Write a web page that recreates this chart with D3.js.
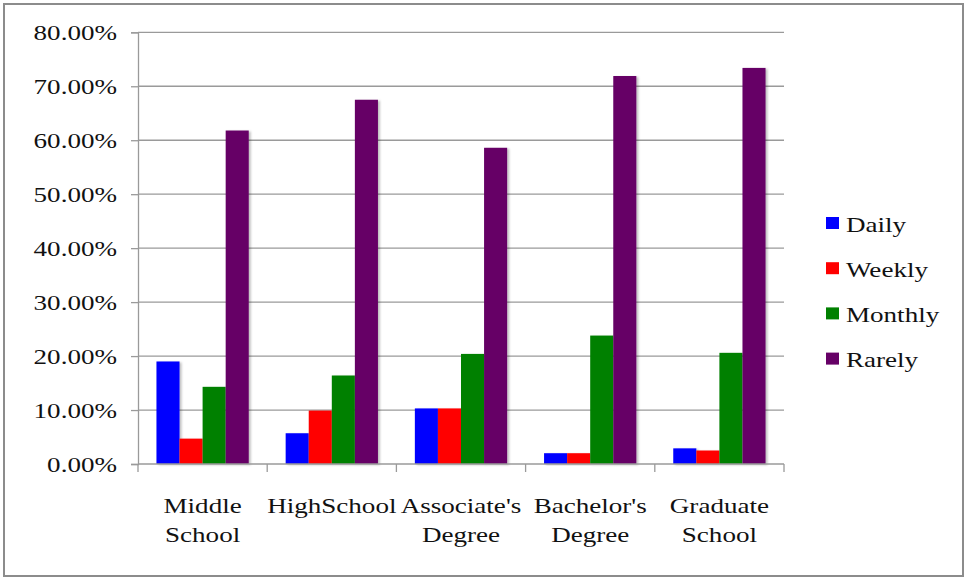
<!DOCTYPE html>
<html><head><meta charset="utf-8">
<script src="https://cdn.jsdelivr.net/npm/d3@7"></script>
<style>html,body{margin:0;padding:0;background:#fff;}svg{display:block;}</style>
</head><body>
<script>
const categories = [["Middle","School"],["HighSchool"],["Associate's","Degree"],["Bachelor's","Degree"],["Graduate","School"]];
const seriesNames = ["Daily","Weekly","Monthly","Rarely"];
const seriesColors = ["#0000ff","#ff0000","#008000","#660066"];
const daily   = [0.190, 0.057, 0.103, 0.020, 0.029];
const weekly  = [0.047, 0.099, 0.103, 0.020, 0.025];
const monthly = [0.143, 0.164, 0.204, 0.238, 0.206];
const rarely  = [0.618, 0.675, 0.586, 0.719, 0.734];
const yTicks = [0,0.1,0.2,0.3,0.4,0.5,0.6,0.7,0.8];
const values = [daily, weekly, monthly, rarely];

(function(){
const W = 965, H = 579;
const svg = d3.select("body").append("svg").attr("width", W).attr("height", H);
const defs = svg.append("defs");
const f = defs.append("filter").attr("id","sh").attr("x","-20%").attr("y","-5%").attr("width","150%").attr("height","120%");
f.append("feDropShadow").attr("dx",2).attr("dy",1).attr("stdDeviation",1).attr("flood-color","#000").attr("flood-opacity",0.25);

svg.append("rect").attr("x",4).attr("y",4).attr("width",959).attr("height",572)
  .attr("fill","#fff").attr("stroke","#8c8c8c").attr("stroke-width",2);

const pLeft = 138, pRight = 784, pTop = 32.3, pBottom = 464;
const x0 = d3.scaleBand().domain(d3.range(categories.length)).range([pLeft,pRight]).padding(0);
const x1 = d3.scaleBand().domain(d3.range(seriesNames.length)).range([0,x0.bandwidth()]).paddingInner(0).paddingOuter(0.8);
const y = d3.scaleLinear().domain([0,0.8]).range([pBottom, pTop]);

function stext(g, x, yy, txt, anchor, size){
  return g.append("text").attr("transform",`translate(${x},${yy}) scale(1.23,1)`)
    .attr("text-anchor",anchor).style("font-family",'"Liberation Serif"').style("font-size",size+"px")
    .attr("fill","#111").text(txt);
}

const grid = svg.append("g");
grid.selectAll("line").data(yTicks.filter(d=>d>0)).join("line")
  .attr("x1",pLeft).attr("x2",pRight).attr("y1",d=>y(d)).attr("y2",d=>y(d))
  .attr("stroke","#9a9a9a").attr("stroke-width",1.3);

const yAxis = d3.axisLeft(y).tickValues(yTicks).tickSize(7).tickFormat(d=>d3.format(".2%")(d));
const ya = svg.append("g").attr("transform",`translate(${pLeft},0)`).call(yAxis);
ya.select(".domain").attr("stroke","#9a9a9a").attr("stroke-width",1.3);
ya.selectAll(".tick line").attr("stroke","#9a9a9a").attr("stroke-width",1.3);
ya.selectAll(".tick text").remove();
const yl = svg.append("g");
yTicks.forEach(t=>{ stext(yl, 117, y(t)+7.5, d3.format(".2%")(t), "end", 22); });

const bars = svg.append("g");
values.forEach((arr,si)=>{
  bars.selectAll(null).data(arr).join("rect")
    .attr("x",(d,i)=>x0(i)+x1(si)).attr("width",x1.bandwidth())
    .attr("y",d=>y(d)).attr("height",d=>y(0)-y(d))
    .attr("fill",seriesColors[si]).attr("filter","url(#sh)");
});

const xa = svg.append("g");
xa.append("line").attr("x1",pLeft).attr("x2",pRight).attr("y1",pBottom).attr("y2",pBottom)
  .attr("stroke","#9a9a9a").attr("stroke-width",1.3);
xa.selectAll("line.tk").data(d3.range(categories.length+1)).join("line").attr("class","tk")
  .attr("x1",i=>pLeft+i*x0.step()).attr("x2",i=>pLeft+i*x0.step())
  .attr("y1",pBottom).attr("y2",pBottom+8).attr("stroke","#9a9a9a").attr("stroke-width",1.3);
categories.forEach((lines,i)=>{
  const cx = x0(i)+x0.bandwidth()/2;
  lines.forEach((ln,j)=>{ stext(xa, cx, 513+j*28.5, ln, "middle", 22); });
});

const lg = svg.append("g");
seriesNames.forEach((n,i)=>{
  const yy = 217 + i*45.2;
  lg.append("rect").attr("x",826).attr("y",yy).attr("width",13).attr("height",12).attr("fill",seriesColors[i]);
  stext(lg, 846, yy+14.5, n, "start", 22);
});
})();
</script>
</body></html>
